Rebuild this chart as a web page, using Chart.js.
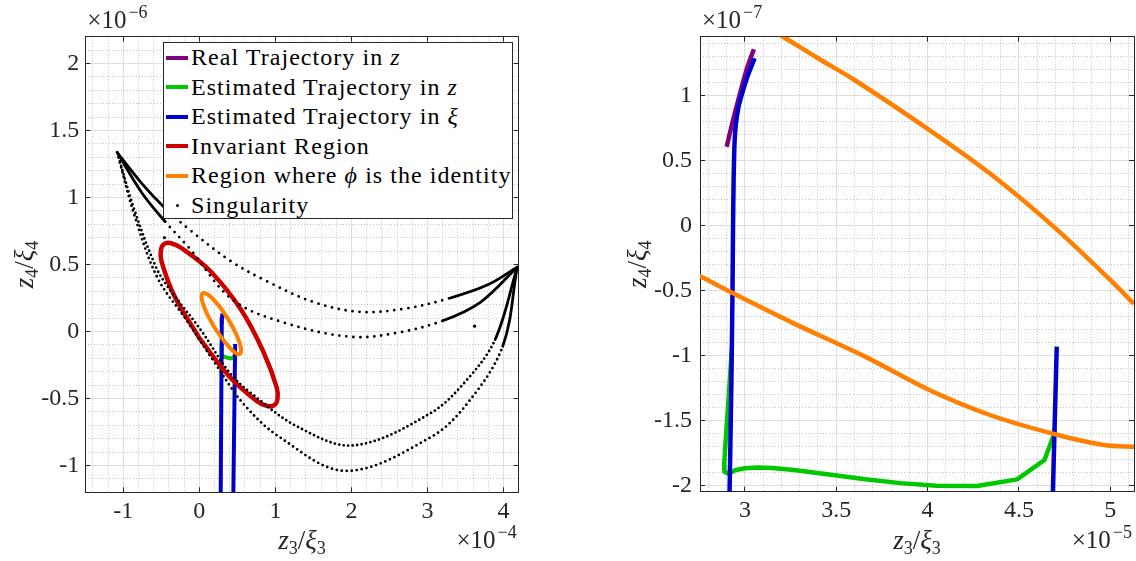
<!DOCTYPE html>
<html>
<head>
<meta charset="utf-8">
<title>Trajectories, regions and singularity</title>
<script src="https://cdn.jsdelivr.net/npm/chart.js@4.4.1/dist/chart.umd.min.js"></script>
<style>
  html, body { margin: 0; padding: 0; background: #fff; }
  body { position: relative; width: 1136px; height: 561px; overflow: hidden; font-family: "Liberation Serif", "DejaVu Serif", serif; }
  canvas { position: absolute; top: 0; }
  #mainPanel { left: 0; }
  #zoomPanel { left: 568px; }
  #legend { position: absolute; left: 163px; top: 42px; width: 350px; height: 177px; box-sizing: border-box;
            border: 1px solid #262626; background: #fff; font-size: 24px; letter-spacing: 1.05px; color: #000; }
  #legend .row { height: 29.5px; display: flex; align-items: center; white-space: nowrap; }
  #legend .sample { width: 22px; height: 4px; margin-left: 2px; margin-right: 3px; flex: none; }
  #legend .dot { width: 3px; height: 3px; border-radius: 50%; margin-left: 12px; margin-right: 12px; flex: none; }
</style>
</head>
<body>
<canvas id="mainPanel" width="568" height="561"></canvas>
<canvas id="zoomPanel" width="568" height="561"></canvas>
<div id="legend"></div>
<script>
// axis multipliers printed as x10^n on each panel
var mainUnitX = 1e-4, mainUnitY = 1e-6;
var zoomUnitX = 1e-5, zoomUnitY = 1e-7;

// major tick values, in axis units
var mainTicksX = [-1, 0, 1, 2, 3, 4];
var mainTicksY = [-1, -0.5, 0, 0.5, 1, 1.5, 2];
var zoomTicksX = [3, 3.5, 4, 4.5, 5];
var zoomTicksY = [-2, -1.5, -1, -0.5, 0, 0.5, 1];

// trajectories, [z3/xi3, z4/xi4]
var realTrajZ = [[2.900e-5, 0.61e-7], [2.935e-5, 0.815e-7], [2.975e-5, 1.03e-7], [3.014e-5, 1.225e-7], [3.049e-5, 1.36e-7]];
var estTrajZ = [[2.928e-5, -0.95e-7], [2.912e-5, -1.30e-7], [2.897e-5, -1.60e-7], [2.886e-5, -1.84e-7], [2.888e-5, -1.89e-7],
                [2.910e-5, -1.905e-7], [2.95e-5, -1.877e-7], [3.00e-5, -1.864e-7], [3.07e-5, -1.857e-7], [3.15e-5, -1.862e-7],
                [3.27e-5, -1.877e-7], [3.45e-5, -1.91e-7], [3.66e-5, -1.949e-7], [3.85e-5, -1.978e-7], [4.05e-5, -1.998e-7],
                [4.27e-5, -2.0e-7], [4.49e-5, -1.949e-7], [4.64e-5, -1.80e-7], [4.69e-5, -1.61e-7], [4.697e-5, -1.55e-7]];
var estTrajXiA = [[2.80e-5, -13e-7], [2.916e-5, -2.044e-7], [2.926e-5, -1.18e-7], [2.932e-5, -0.49e-7], [2.935e-5, 0.0],
                  [2.938e-5, 0.35e-7], [2.942e-5, 0.60e-7], [2.949e-5, 0.764e-7], [2.965e-5, 0.918e-7], [2.985e-5, 1.021e-7],
                  [3.014e-5, 1.149e-7], [3.053e-5, 1.29e-7]];
var estTrajXiB = [[4.45e-5, -13e-7], [4.686e-5, -2.044e-7], [4.707e-5, -0.928e-7]];

// invariant region boundary (closed)
var invariantRegion = [[0.000e-4, -0.049e-6], [-0.328e-4, 0.265e-6], [-0.497e-4, 0.522e-6], [-0.506e-4, 0.607e-6],
                       [-0.464e-4, 0.653e-6], [-0.372e-4, 0.659e-6], [-0.236e-4, 0.623e-6], [0.149e-4, 0.448e-6],
                       [0.551e-4, 0.160e-6], [0.850e-4, -0.162e-6], [1.018e-4, -0.419e-6], [1.028e-4, -0.504e-6],
                       [0.986e-4, -0.550e-6], [0.893e-4, -0.556e-6], [0.758e-4, -0.520e-6], [0.397e-4, -0.337e-6],
                       [0.000e-4, -0.049e-6]];
// region where phi is the identity (closed)
var identityRegion = [[0.198e-4, 0.031e-6], [0.088e-4, 0.147e-6], [0.033e-4, 0.240e-6], [0.045e-4, 0.285e-6],
                      [0.123e-4, 0.271e-6], [0.244e-4, 0.201e-6], [0.377e-4, 0.094e-6], [0.486e-4, -0.022e-6],
                      [0.545e-4, -0.118e-6], [0.530e-4, -0.168e-6], [0.452e-4, -0.150e-6], [0.331e-4, -0.075e-6],
                      [0.198e-4, 0.031e-6]];
// the same boundary near the trajectories, finer
var identityUpperArc = [[3.10e-5, 1.545e-7], [3.209e-5, 1.456e-7], [3.40e-5, 1.29e-7], [3.60e-5, 1.123e-7], [4.01e-5, 0.738e-7],
                        [4.34e-5, 0.405e-7], [4.69e-5, -0.005e-7], [5.00e-5, -0.415e-7], [5.13e-5, -0.60e-7], [5.20e-5, -0.70e-7]];
var identityLowerArc = [[2.70e-5, -0.35e-7], [2.76e-5, -0.39e-7], [2.935e-5, -0.518e-7], [3.267e-5, -0.749e-7], [3.658e-5, -1.005e-7],
                        [4.009e-5, -1.262e-7], [4.341e-5, -1.454e-7], [4.692e-5, -1.60e-7], [4.965e-5, -1.685e-7],
                        [5.131e-5, -1.698e-7], [5.20e-5, -1.70e-7]];

// singularity set: four branches between the two cusps, plus isolated points
var singularA = [[-1.08e-4, 1.335e-6], [-0.75e-4, 1.10e-6], [-0.45e-4, 0.92e-6], [-0.13e-4, 0.76e-6], [0.40e-4, 0.53e-6],
                 [0.87e-4, 0.38e-6], [1.50e-4, 0.22e-6], [2.10e-4, 0.147e-6], [2.70e-4, 0.17e-6], [3.30e-4, 0.25e-6],
                 [3.80e-4, 0.35e-6], [4.18e-4, 0.48e-6]];
var singularB = [[-1.08e-4, 1.335e-6], [-0.75e-4, 1.03e-6], [-0.45e-4, 0.82e-6], [-0.13e-4, 0.62e-6], [0.44e-4, 0.235e-6],
                 [1.15e-4, 0.06e-6], [2.00e-4, -0.04e-6], [2.60e-4, -0.01e-6], [3.20e-4, 0.08e-6], [3.70e-4, 0.22e-6],
                 [4.18e-4, 0.48e-6]];
var singularC = [[-1.08e-4, 1.335e-6], [-0.85e-4, 0.90e-6], [-0.57e-4, 0.48e-6], [-0.41e-4, 0.33e-6], [0.02e-4, 0.01e-6],
                 [0.40e-4, -0.31e-6], [0.68e-4, -0.46e-6], [1.29e-4, -0.71e-6], [2.03e-4, -0.85e-6], [3.04e-4, -0.61e-6],
                 [3.52e-4, -0.36e-6], [3.89e-4, -0.06e-6], [4.18e-4, 0.48e-6]];
var singularD = [[-1.08e-4, 1.335e-6], [-0.85e-4, 0.86e-6], [-0.55e-4, 0.40e-6], [-0.15e-4, 0.07e-6], [0.21e-4, -0.24e-6],
                 [0.58e-4, -0.54e-6], [1.06e-4, -0.79e-6], [1.93e-4, -1.04e-6], [3.04e-4, -0.79e-6], [3.52e-4, -0.54e-6],
                 [3.99e-4, -0.11e-6], [4.18e-4, 0.48e-6]];
var singularDots = [[-0.46e-4, 0.70e-6], [3.62e-4, 0.04e-6]];

var colors = { purple: '#800080', green: '#00c800', blue: '#0000cc', red: '#cc0000', orange: '#ff8000', black: '#000000' };
var axisColor = '#262626', majorGridColor = '#dedede', minorGridColor = '#c4c4c4';
var serif = '"Liberation Serif", "DejaVu Serif", serif';

var legendEntries = [
  { html: 'Real Trajectory in <i>z</i>', color: colors.purple },
  { html: 'Estimated Trajectory in <i>z</i>', color: colors.green },
  { html: 'Estimated Trajectory in <i>&xi;</i>', color: colors.blue },
  { html: 'Invariant Region', color: colors.red },
  { html: 'Region where <i>&#981;</i> is the identity', color: colors.orange },
  { html: 'Singularity', color: colors.black, dot: true }
];

// axis labels z3/xi3 and z4/xi4 with real subscripts
var xLabelParts = [{ t: 'z', it: true }, { t: '3', sub: true }, { t: '/' }, { t: '\u03be', it: true }, { t: '3', sub: true }];
var yLabelParts = [{ t: 'z', it: true }, { t: '4', sub: true }, { t: '/' }, { t: '\u03be', it: true }, { t: '4', sub: true }];

function toPoints(pairs, ux, uy) {
  return pairs.map(function (p) { return { x: p[0] / ux, y: p[1] / uy }; });
}

function curve(label, pairs, ux, uy, color, width, extra) {
  var ds = {
    label: label, data: toPoints(pairs, ux, uy), showLine: true, fill: false,
    borderColor: color, backgroundColor: color, borderWidth: width, pointRadius: 0,
    tension: 0, clip: 0, borderCapStyle: 'butt', borderJoinStyle: 'round'
  };
  for (var k in extra) ds[k] = extra[k];
  return ds;
}

// dotted branch, drawn solid close to the cusps
function singularBranch(pairs, solidBefore, solidAfter, gap) {
  return curve('Singularity', pairs, mainUnitX, mainUnitY, colors.black, 2.8, {
    tension: 0.35, borderCapStyle: 'round',
    segment: {
      borderDash: function (ctx) {
        if (ctx.p1.parsed.x <= solidBefore || ctx.p0.parsed.x >= solidAfter) return [];
        return [0, gap];
      }
    }
  });
}

function fixedTicks(values) {
  return function (scale) { scale.ticks = values.map(function (v) { return { value: v }; }); };
}

function minorTicks(min, max, step, majors) {
  var out = [];
  for (var i = Math.ceil(min / step - 1e-9); i * step <= max + 1e-9; i++) {
    var v = Math.round(i * step * 1000) / 1000;
    if (majors.indexOf(v) < 0) out.push(v);
  }
  return out;
}

function makeScales(c) {
  var tickFont = { family: serif, size: 24 };
  var label = function (v) { return String(v); };
  return {
    x: {
      type: 'linear', axis: 'x', position: 'bottom', min: c.xMin, max: c.xMax,
      afterBuildTicks: fixedTicks(c.xTicks),
      afterFit: function (s) { s.height = c.bottomH; },
      ticks: { color: axisColor, font: tickFont, padding: 10, maxRotation: 0, autoSkip: false, callback: label },
      grid: { color: majorGridColor, lineWidth: 1, drawTicks: true, tickLength: -5, tickColor: axisColor, tickWidth: 1 },
      border: { display: true, color: axisColor, width: 1 }
    },
    xMinor: {
      type: 'linear', axis: 'x', position: 'bottom', min: c.xMin, max: c.xMax,
      afterBuildTicks: fixedTicks(minorTicks(c.xMin, c.xMax, c.xStep, c.xTicks)),
      afterFit: function (s) { s.height = 0; },
      ticks: { display: false },
      grid: { color: minorGridColor, lineWidth: 1, drawTicks: false, borderDash: [1, 2] },
      border: { display: false, dash: [1, 2] }
    },
    xTop: {
      type: 'linear', axis: 'x', position: 'top', min: c.xMin, max: c.xMax,
      afterBuildTicks: fixedTicks(c.xTicks),
      afterFit: function (s) { s.height = 0; },
      ticks: { display: false },
      grid: { drawOnChartArea: false, drawTicks: true, tickLength: -5, tickColor: axisColor, tickWidth: 1 },
      border: { display: true, color: axisColor, width: 1 }
    },
    y: {
      type: 'linear', axis: 'y', position: 'left', min: c.yMin, max: c.yMax,
      afterBuildTicks: fixedTicks(c.yTicks),
      afterFit: function (s) { s.width = c.leftW; },
      ticks: { color: axisColor, font: tickFont, padding: c.yTickPad, autoSkip: false, callback: label },
      grid: { color: majorGridColor, lineWidth: 1, drawTicks: true, tickLength: -5, tickColor: axisColor, tickWidth: 1 },
      border: { display: true, color: axisColor, width: 1 }
    },
    yMinor: {
      type: 'linear', axis: 'y', position: 'left', min: c.yMin, max: c.yMax,
      afterBuildTicks: fixedTicks(minorTicks(c.yMin, c.yMax, c.yStep, c.yTicks)),
      afterFit: function (s) { s.width = 0; },
      ticks: { display: false },
      grid: { color: minorGridColor, lineWidth: 1, drawTicks: false, borderDash: [1, 2] },
      border: { display: false, dash: [1, 2] }
    },
    yRight: {
      type: 'linear', axis: 'y', position: 'right', min: c.yMin, max: c.yMax,
      afterBuildTicks: fixedTicks(c.yTicks),
      afterFit: function (s) { s.width = 0; },
      ticks: { display: false },
      grid: { drawOnChartArea: false, drawTicks: true, tickLength: -5, tickColor: axisColor, tickWidth: 1 },
      border: { display: true, color: axisColor, width: 1 }
    }
  };
}

// "x10^n" multiplier
function drawPower(ctx, power, x, baseline, alignRight) {
  var base = '\u00d710', sup = '\u2212' + Math.abs(power);
  ctx.font = '25px ' + serif;
  var wb = ctx.measureText(base).width;
  ctx.font = '18px ' + serif;
  var ws = ctx.measureText(sup).width;
  var left = alignRight ? x - wb - ws - 2 : x;
  ctx.font = '25px ' + serif;
  ctx.fillText(base, left, baseline);
  ctx.font = '18px ' + serif;
  ctx.fillText(sup, left + wb + 2, baseline - 10);
}

// label with subscripts, centred on cx
function drawMathLabel(ctx, parts, cx, baseline) {
  var fonts = parts.map(function (p) {
    return p.sub ? '18px ' + serif : (p.it ? 'italic ' : '') + '27px ' + serif;
  });
  var widths = parts.map(function (p, i) { ctx.font = fonts[i]; return ctx.measureText(p.t).width; });
  var x = cx - widths.reduce(function (a, b) { return a + b; }, 0) / 2;
  parts.forEach(function (p, i) {
    ctx.font = fonts[i];
    ctx.fillText(p.t, x, baseline + (p.sub ? 5 : 0));
    x += widths[i];
  });
}

var axisTextPlugin = {
  id: 'axisText',
  afterDraw: function (chart, args, opts) {
    var ctx = chart.ctx, area = chart.chartArea;
    ctx.save();
    ctx.fillStyle = axisColor;
    ctx.textAlign = 'left';
    ctx.textBaseline = 'alphabetic';
    drawPower(ctx, opts.expY, area.left + 2, 28, false);
    drawPower(ctx, opts.expX, area.right - 2, 548, true);
    drawMathLabel(ctx, xLabelParts, (area.left + area.right) / 2, 549);
    ctx.translate(opts.yLabelBase, (area.top + area.bottom) / 2);
    ctx.rotate(-Math.PI / 2);
    drawMathLabel(ctx, yLabelParts, 0, 0);
    ctx.restore();
  }
};

function baseOptions(c, text) {
  return {
    responsive: false, animation: false, devicePixelRatio: 1, events: [],
    layout: { padding: { left: 0, right: c.padRight, top: 36.7, bottom: 0 } },
    elements: { line: { capBezierPoints: false } },
    plugins: { legend: { display: false }, tooltip: { enabled: false }, axisText: text },
    scales: makeScales(c)
  };
}

// full view: regions, singularity and trajectories
var mainDatasets = [
  singularBranch(singularA, -0.45, 3.3, 7),
  singularBranch(singularB, -0.45, 3.2, 7),
  singularBranch(singularC, -1.2, 3.6, 4.5),
  singularBranch(singularD, -1.2, 3.6, 5),
  { label: 'Singularity', data: toPoints(singularDots, mainUnitX, mainUnitY), showLine: false,
    pointRadius: 1.6, pointBackgroundColor: colors.black, pointBorderWidth: 0 },
  curve('Region where \u03d5 is the identity', identityRegion, mainUnitX, mainUnitY, colors.orange, 4, { tension: 0.4, borderCapStyle: 'round' }),
  curve('Invariant Region', invariantRegion, mainUnitX, mainUnitY, colors.red, 4.5, { tension: 0.4, borderCapStyle: 'round' }),
  curve('Estimated Trajectory in \u03be', estTrajXiA, mainUnitX, mainUnitY, colors.blue, 4),
  curve('Estimated Trajectory in \u03be', estTrajXiB, mainUnitX, mainUnitY, colors.blue, 4),
  curve('Estimated Trajectory in z', estTrajZ, mainUnitX, mainUnitY, colors.green, 4),
  curve('Real Trajectory in z', realTrajZ, mainUnitX, mainUnitY, colors.purple, 4)
];

new Chart(document.getElementById('mainPanel'), {
  type: 'scatter',
  data: { datasets: mainDatasets },
  options: baseOptions({
    xMin: -1.5, xMax: 4.2, yMin: -1.2, yMax: 2.2, xTicks: mainTicksX, yTicks: mainTicksY,
    xStep: 0.2, yStep: 0.1, bottomH: 68.7, leftW: 85.3, padRight: 49.3, yTickPad: 11
  }, { expX: -4, expY: -6, yLabelBase: 33 }),
  plugins: [axisTextPlugin]
});

// close-up around the trajectories
var zoomDatasets = [
  curve('Region where \u03d5 is the identity', identityUpperArc, zoomUnitX, zoomUnitY, colors.orange, 4.5, { tension: 0.3 }),
  curve('Region where \u03d5 is the identity', identityLowerArc, zoomUnitX, zoomUnitY, colors.orange, 4.5, { tension: 0.3 }),
  curve('Estimated Trajectory in \u03be', estTrajXiA, zoomUnitX, zoomUnitY, colors.blue, 4.5, { tension: 0.2 }),
  curve('Estimated Trajectory in \u03be', estTrajXiB, zoomUnitX, zoomUnitY, colors.blue, 4.5),
  curve('Estimated Trajectory in z', estTrajZ, zoomUnitX, zoomUnitY, colors.green, 4.5),
  curve('Real Trajectory in z', realTrajZ, zoomUnitX, zoomUnitY, colors.purple, 4.5, { tension: 0.2 })
];

new Chart(document.getElementById('zoomPanel'), {
  type: 'scatter',
  data: { datasets: zoomDatasets },
  options: baseOptions({
    xMin: 2.754, xMax: 5.13, yMin: -2.044, yMax: 1.456, xTicks: zoomTicksX, yTicks: zoomTicksY,
    xStep: 0.1, yStep: 0.1, bottomH: 69.3, leftW: 132, padRight: 2, yTickPad: 13
  }, { expX: -5, expY: -7, yLabelBase: 78 }),
  plugins: [axisTextPlugin]
});

// legend box inside the full view
var legendBox = document.getElementById('legend');
legendEntries.forEach(function (e) {
  var row = document.createElement('div');
  row.className = 'row';
  var mark = document.createElement('span');
  mark.className = e.dot ? 'dot' : 'sample';
  mark.style.background = e.color;
  var text = document.createElement('span');
  text.innerHTML = e.html;
  row.appendChild(mark);
  row.appendChild(text);
  legendBox.appendChild(row);
});
</script>
</body>
</html>
